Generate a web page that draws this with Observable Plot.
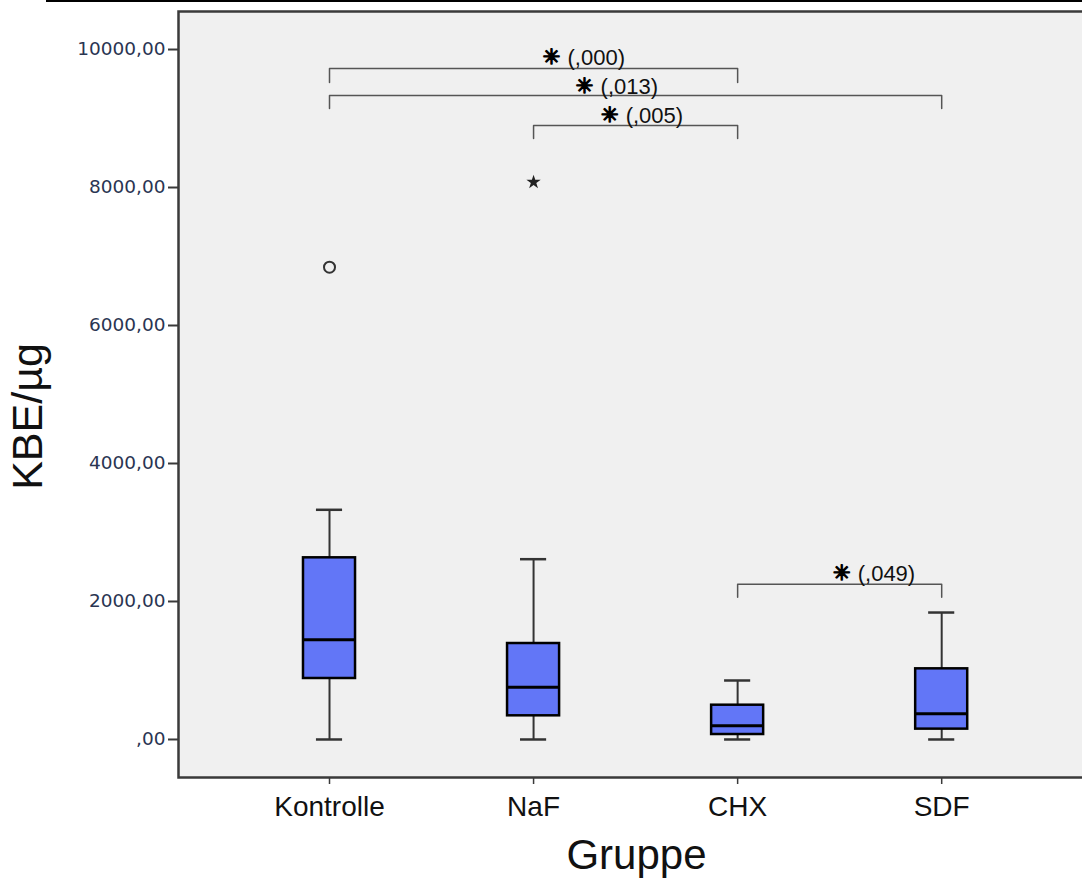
<!DOCTYPE html>
<html>
<head>
<meta charset="utf-8">
<script src="https://cdn.jsdelivr.net/npm/d3@7"></script>
<script src="https://cdn.jsdelivr.net/npm/@observablehq/plot@0.6"></script>
<style>
  body { margin: 0; background: #fff; }
  #wrap { position: relative; width: 1082px; height: 881px; }
  #topline { position: absolute; left: 46px; top: 0; width: 1036px; height: 2px; background: #000; }
</style>
</head>
<body>
<div id="wrap"><div id="topline"></div><div id="chart"></div></div>
<script>
// ---- data ----
const groups       = ["Kontrolle", "NaF", "CHX", "SDF"];
const whiskerLow   = [0, 0, 0, 0];
const q1           = [884, 343, 72, 150];
const median       = [1445, 758, 198, 372];
const q3           = [2633, 1391, 497, 1024];
const whiskerHigh  = [3329, 2613, 855, 1840];
const outlierGroup = ["Kontrolle", "NaF"];
const outlierValue = [6845, 8077];
const outlierKind  = ["circle", "star"];   // SPSS: ○ = outlier, * = extreme
const yTicks       = [0, 2000, 4000, 6000, 8000, 10000];

// significance brackets
const bracketFrom  = ["Kontrolle", "Kontrolle", "NaF", "CHX"];
const bracketTo    = ["CHX", "SDF", "CHX", "SDF"];
const bracketTop   = [9725, 9333, 8899, 2251];
const bracketDrop  = [9522, 9145, 8710, 2062];
const bracketText  = ["(,000)", "(,013)", "(,005)", "(,049)"];
const starAt       = [1.088, 1.25, 1.373, 2.51];   // label position, in group units
const starLevel    = [9884, 9464, 9043, 2406];

// ---- derived tables ----
const idx = g => groups.indexOf(g);
const stats = groups.map((g, i) => ({
  g, i, lo: whiskerLow[i], q1: q1[i], med: median[i], q3: q3[i], hi: whiskerHigh[i]
}));
const outliers = outlierGroup.map((g, k) => ({i: idx(g), v: outlierValue[k], kind: outlierKind[k]}));
const bracketPts = [];
bracketFrom.forEach((a, k) => {
  const ia = idx(a), ib = idx(bracketTo[k]);
  bracketPts.push({k, x: ia, y: bracketDrop[k]}, {k, x: ia, y: bracketTop[k]},
                  {k, x: ib, y: bracketTop[k]}, {k, x: ib, y: bracketDrop[k]});
});
const labels = bracketText.map((t, k) => ({t, x: starAt[k], y: starLevel[k]}));

const boxHalf = 0.1275, capHalf = 0.064;
const fmt = d => d === 0 ? ",00" : `${d},00`;

const chart = Plot.plot({
  width: 1082,
  height: 881,
  marginTop: 11,
  marginBottom: 104,
  marginLeft: 178,
  marginRight: 0,
  style: {background: "transparent", overflow: "visible"},
  x: {type: "linear", domain: [-0.74, 3.69], axis: null},
  y: {domain: [-551, 10551], axis: null},
  marks: [
    Plot.frame({fill: "#f0f0f0", stroke: "#3a3a3a", strokeWidth: 2.5, insetRight: -4}),
    Plot.axisY({ticks: yTicks, tickFormat: fmt, tickSize: 10, tickPadding: 3, label: null,
      fontSize: 18.5, fontFamily: "DejaVu Sans", fill: "#2a3552", stroke: "#3a3a3a", strokeWidth: 2}),
    Plot.axisX({ticks: [0, 1, 2, 3], tickFormat: i => groups[i], tickSize: 7, tickPadding: 12, label: null,
      fontSize: 28, fontFamily: "Liberation Sans", fill: "#111", stroke: "#3a3a3a", strokeWidth: 1.5}),
    Plot.text(["KBE/µg"], {frameAnchor: "left", textAnchor: "middle", dx: -150, dy: 22, rotate: -90,
      fontSize: 43, fontFamily: "Liberation Sans", fill: "#111"}),
    Plot.text(["Gruppe"], {frameAnchor: "bottom", dx: 6, dy: 91,
      fontSize: 42, fontFamily: "Liberation Sans", fill: "#111"}),
    // whiskers
    Plot.ruleX(stats, {x: "i", y1: "q3", y2: "hi", stroke: "#333", strokeWidth: 2}),
    Plot.ruleX(stats, {x: "i", y1: "lo", y2: "q1", stroke: "#333", strokeWidth: 2}),
    Plot.ruleY(stats, {x1: d => d.i - capHalf, x2: d => d.i + capHalf, y: "hi", stroke: "#333", strokeWidth: 2.5}),
    Plot.ruleY(stats, {x1: d => d.i - capHalf, x2: d => d.i + capHalf, y: "lo", stroke: "#333", strokeWidth: 2.5}),
    // boxes
    Plot.rect(stats, {x1: d => d.i - boxHalf, x2: d => d.i + boxHalf, y1: "q1", y2: "q3",
      fill: "#6276f7", stroke: "#000", strokeWidth: 2.5}),
    Plot.ruleY(stats, {x1: d => d.i - boxHalf, x2: d => d.i + boxHalf, y: "med", stroke: "#000", strokeWidth: 3}),
    // outliers
    Plot.dot(outliers.filter(d => d.kind === "circle"), {x: "i", y: "v", r: 5.5, stroke: "#333", strokeWidth: 2, fill: "none"}),
    Plot.dot(outliers.filter(d => d.kind === "star"), {x: "i", y: "v", r: 4.5, symbol: "star", fill: "#222", stroke: "none"}),
    // significance brackets
    Plot.line(bracketPts, {x: "x", y: "y", z: "k", stroke: "#555", strokeWidth: 1.5}),
    Plot.text(labels, {x: "x", y: "y", text: () => "✳", fontSize: 21, fontFamily: "DejaVu Sans",
      fill: "#000", stroke: "#000", strokeWidth: 1.4}),
    Plot.text(labels, {x: "x", y: "y", text: "t", dx: 16, textAnchor: "start",
      fontSize: 22, fontFamily: "Liberation Sans", fill: "#111"})
  ]
});
document.getElementById("chart").appendChild(chart);
</script>
</body>
</html>
